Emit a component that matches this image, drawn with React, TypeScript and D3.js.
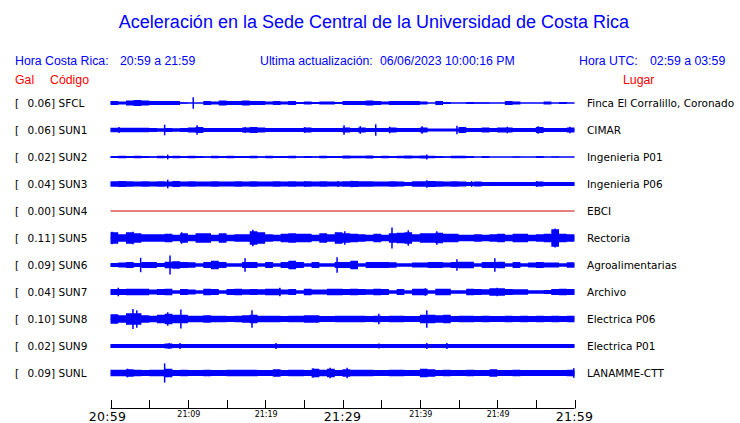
import React from "react";
import * as d3 from "d3";

// ---------- data ----------
const CODES = ["SFCL", "SUN1", "SUN2", "SUN3", "SUN4", "SUN5", "SUN6", "SUN7", "SUN8", "SUN9", "SUNL"];
const PEAKS = ["0.06", "0.06", "0.02", "0.04", "0.00", "0.11", "0.09", "0.04", "0.10", "0.02", "0.09"];
const PLACES = [
  "Finca El Corralillo, Coronado", "CIMAR", "Ingenieria P01", "Ingenieria P06", "EBCI", "Rectoria",
  "Agroalimentarias", "Archivo", "Electrica P06", "Electrica P01", "LANAMME-CTT",
];

// envelope half-amplitude (Gal), one value per minute 20:59 .. 21:58
const ENV_SFCL = [0.02,0.015,0.025,0.03,0.025,0.02,0.02,0.02,0.02,0.008,0.005,0.005,0.02,0.015,0.025,0.02,0.02,0.025,0.02,0.02,0.015,0.02,0.015,0.02,0.01,0.015,0.01,0.015,0.015,0.01,0.02,0.02,0.02,0.025,0.02,0.015,0.02,0.02,0.02,0.02,0.015,0.005,0.02,0.01,0.005,0.005,0.01,0.008,0.008,0.005,0.005,0.02,0.015,0.005,0.005,0.005,0.015,0.005,0.01,0.005];
const ENV_SUN1 = [0.023,0.023,0.023,0.023,0.023,0.02,0.018,0.02,0.018,0.02,0.025,0.03,0.02,0.02,0.02,0.02,0.02,0.025,0.03,0.025,0.02,0.02,0.02,0.02,0.02,0.025,0.02,0.02,0.02,0.02,0.025,0.02,0.025,0.02,0.02,0.02,0.025,0.02,0.02,0.02,0.025,0.015,0.015,0.015,0.015,0.03,0.02,0.02,0.025,0.02,0.025,0.025,0.02,0.02,0.02,0.03,0.02,0.02,0.02,0.025];
const ENV_SUN2 = [0.01,0.012,0.01,0.012,0.01,0.008,0.012,0.01,0.012,0.01,0.012,0.01,0.008,0.012,0.01,0.012,0.01,0.01,0.012,0.008,0.012,0.01,0.01,0.012,0.008,0.01,0.008,0.012,0.01,0.01,0.015,0.012,0.012,0.015,0.01,0.012,0.01,0.012,0.015,0.012,0.015,0.012,0.01,0.008,0.012,0.012,0.01,0.005,0.01,0.005,0.005,0.005,0.008,0.005,0.005,0.01,0.005,0.008,0.005,0.005];
const ENV_SUN3 = [0.028,0.03,0.028,0.025,0.028,0.025,0.028,0.025,0.03,0.025,0.028,0.025,0.025,0.028,0.025,0.025,0.028,0.025,0.028,0.025,0.025,0.028,0.025,0.028,0.025,0.028,0.025,0.028,0.025,0.025,0.028,0.03,0.028,0.028,0.025,0.025,0.028,0.025,0.022,0.028,0.028,0.03,0.028,0.025,0.028,0.025,0.022,0.025,0.022,0.022,0.022,0.022,0.022,0.022,0.022,0.025,0.022,0.022,0.022,0.022];
const ENV_SUN4: number[] = [];
const ENV_SUN5 = [0.06,0.04,0.06,0.05,0.04,0.04,0.04,0.045,0.035,0.05,0.035,0.05,0.05,0.035,0.05,0.035,0.04,0.04,0.07,0.06,0.04,0.035,0.045,0.05,0.045,0.045,0.035,0.05,0.04,0.06,0.05,0.045,0.04,0.035,0.045,0.035,0.05,0.055,0.06,0.04,0.05,0.05,0.055,0.045,0.045,0.035,0.035,0.04,0.035,0.04,0.045,0.035,0.045,0.045,0.035,0.04,0.045,0.09,0.045,0.04];
const ENV_SUN6 = [0.022,0.025,0.03,0.02,0.03,0.03,0.02,0.035,0.04,0.03,0.028,0.018,0.03,0.045,0.03,0.018,0.018,0.03,0.03,0.018,0.03,0.018,0.03,0.045,0.03,0.018,0.03,0.018,0.018,0.03,0.03,0.045,0.018,0.03,0.03,0.03,0.028,0.018,0.018,0.025,0.025,0.03,0.03,0.025,0.03,0.035,0.035,0.018,0.03,0.03,0.035,0.018,0.03,0.018,0.025,0.03,0.025,0.025,0.018,0.028];
const ENV_SUN7 = [0.03,0.03,0.035,0.035,0.035,0.025,0.03,0.035,0.017,0.03,0.025,0.017,0.035,0.03,0.017,0.03,0.035,0.028,0.03,0.028,0.035,0.035,0.025,0.03,0.017,0.035,0.025,0.025,0.035,0.035,0.03,0.035,0.03,0.028,0.035,0.03,0.017,0.03,0.017,0.035,0.035,0.017,0.035,0.035,0.017,0.017,0.035,0.03,0.028,0.04,0.04,0.03,0.028,0.028,0.017,0.017,0.02,0.032,0.035,0.03];
const ENV_SUN8 = [0.05,0.04,0.06,0.06,0.04,0.035,0.045,0.055,0.045,0.045,0.035,0.035,0.04,0.035,0.035,0.03,0.035,0.04,0.045,0.035,0.035,0.035,0.03,0.035,0.035,0.04,0.04,0.03,0.03,0.035,0.035,0.035,0.035,0.03,0.035,0.03,0.035,0.035,0.03,0.03,0.045,0.045,0.04,0.045,0.03,0.035,0.035,0.03,0.033,0.03,0.03,0.033,0.03,0.033,0.03,0.033,0.03,0.033,0.03,0.033];
const ENV_SUN9 = [0.02,0.02,0.02,0.02,0.02,0.02,0.02,0.025,0.02,0.02,0.02,0.02,0.02,0.02,0.02,0.02,0.02,0.02,0.02,0.02,0.02,0.02,0.02,0.02,0.02,0.02,0.02,0.02,0.02,0.02,0.02,0.02,0.02,0.02,0.02,0.02,0.02,0.02,0.02,0.02,0.02,0.02,0.02,0.02,0.02,0.02,0.02,0.02,0.02,0.02,0.02,0.02,0.02,0.02,0.02,0.02,0.02,0.02,0.02,0.02];
const ENV_SUNL = [0.035,0.035,0.04,0.035,0.03,0.035,0.035,0.045,0.03,0.035,0.03,0.03,0.035,0.03,0.03,0.035,0.035,0.035,0.035,0.03,0.03,0.04,0.03,0.035,0.035,0.03,0.045,0.035,0.045,0.03,0.04,0.035,0.035,0.035,0.03,0.03,0.035,0.035,0.03,0.03,0.045,0.04,0.03,0.035,0.03,0.03,0.035,0.03,0.03,0.04,0.03,0.03,0.035,0.03,0.03,0.03,0.03,0.03,0.03,0.035];

// isolated spikes: [minute, half-amplitude (Gal)]
const SPK_SFCL = [[10.7, 0.06]];
const SPK_SUN1 = [[1.1, 0.03],[7.0, 0.055],[11.2, 0.05],[17.4, 0.03],[25.1, 0.03],[30.2, 0.05],[32.3, 0.04],[34.3, 0.06],[36.1, 0.035],[40.3, 0.04],[44.8, 0.045],[51.3, 0.035],[55.3, 0.04],[59.4, 0.035]];
const SPK_SUN2 = [[7.4, 0.025],[40.9, 0.025]];
const SPK_SUN3 = [[7.4, 0.045],[25.1, 0.03],[29.4, 0.03],[31.2, 0.035],[40.9, 0.04],[46.7, 0.03],[55.1, 0.03]];
const SPK_SUN4: number[][] = [];
const SPK_SUN5 = [[0.2, 0.065],[2.9, 0.065],[9.2, 0.06],[18.4, 0.085],[30.3, 0.07],[36.4, 0.11],[38.5, 0.08],[42.2, 0.07],[57.5, 0.1]];
const SPK_SUN6 = [[3.9, 0.075],[7.7, 0.1],[17.4, 0.07],[29.3, 0.08],[44.8, 0.06],[49.7, 0.07]];
const SPK_SUN7 = [[1.0, 0.045],[21.9, 0.045],[40.7, 0.04],[50.0, 0.045]];
const SPK_SUN8 = [[2.9, 0.105],[3.4, 0.09],[7.4, 0.07],[9.1, 0.1],[18.3, 0.09],[34.7, 0.055],[40.9, 0.09]];
const SPK_SUN9 = [[7.6, 0.03],[9.0, 0.03],[21.4, 0.03],[34.7, 0.025],[40.9, 0.03],[43.5, 0.03]];
const SPK_SUNL = [[2.2, 0.045],[7.0, 0.1],[26.2, 0.05],[28.4, 0.055],[30.6, 0.055],[59.9, 0.05]];

const ENVS = [ENV_SFCL, ENV_SUN1, ENV_SUN2, ENV_SUN3, ENV_SUN4, ENV_SUN5, ENV_SUN6, ENV_SUN7, ENV_SUN8, ENV_SUN9, ENV_SUNL];
const SPIKES = [SPK_SFCL, SPK_SUN1, SPK_SUN2, SPK_SUN3, SPK_SUN4, SPK_SUN5, SPK_SUN6, SPK_SUN7, SPK_SUN8, SPK_SUN9, SPK_SUNL];

const START_TIME = "20:59";
const TICK_MINUTES = [0, 5, 10, 15, 20, 25, 30, 35, 40, 45, 50, 55, 60];
const MAJOR_LABEL_MINUTES = [0, 30, 60];
const MINOR_LABEL_MINUTES = [10, 20, 40, 50];

const TITLE = "Aceleración en la Sede Central de la Universidad de Costa Rica";

// ---------- chart ----------
const W = 740;
const H = 423;
const BLUE = "#0000ff";
const RED = "#ff0000";
const SANS = "'Liberation Sans', Arial, sans-serif";
const DEJA = "'DejaVu Sans', sans-serif";

export default function App() {
  const x = d3.scaleLinear().domain([0, 60]).range([110.5, 574.5]);
  const rowY = d3.scalePoint<string>().domain(CODES).range([103, 373]);
  const amp = d3.scaleLinear().domain([-0.125, 0.125]).range([12, -12]);

  const parse = d3.timeParse("%H:%M");
  const fmt = d3.timeFormat("%H:%M");
  const t0 = parse(START_TIME) as Date;
  const label = (m: number) => fmt(d3.timeMinute.offset(t0, m));

  const axisY = 408.5;

  return (
    <svg
      width={W}
      height={H}
      style={{ position: "absolute", left: 0, top: 0, background: "#fff" }}
    >
      <rect width={W} height={H} fill="#fff" />
      <text x={374} y={28} textAnchor="middle" fontFamily={SANS} fontSize={18} fill={BLUE}>
        {TITLE}
      </text>

      <g fontFamily={SANS} fontSize={12.3} fill={BLUE}>
        <text x={15} y={65}>Hora Costa Rica:</text>
        <text x={120} y={65}>20:59 a 21:59</text>
        <text x={260} y={65}>Ultima actualización:</text>
        <text x={380} y={65}>06/06/2023 10:00:16 PM</text>
        <text x={579} y={65}>Hora UTC:</text>
        <text x={650} y={65}>02:59 a 03:59</text>
      </g>
      <g fontFamily={SANS} fontSize={12.3} fill={RED}>
        <text x={15} y={84}>Gal</text>
        <text x={50} y={84}>Código</text>
        <text x={623} y={84}>Lugar</text>
      </g>

      {CODES.map((code, i) => {
        const cy = rowY(code) as number;
        const env = ENVS[i];
        const pts = env.map((v, k) => [k, v]).concat(env.length ? [[env.length, env[env.length - 1]]] : []);
        const area = d3
          .area<number[]>()
          .x((d) => x(d[0]))
          .y0((d) => cy + amp(-d[1]))
          .y1((d) => cy + amp(d[1]))
          .curve(d3.curveStepAfter);
        return (
          <g key={code}>
            <text x={15} y={cy + 4} fontFamily={DEJA} fontSize={10.5} fill="#000">[</text>
            <text x={55} y={cy + 4} textAnchor="end" fontFamily={DEJA} fontSize={10.5} fill="#000">
              {PEAKS[i] + "]"}
            </text>
            <text x={58.5} y={cy + 4} fontFamily={DEJA} fontSize={10.5} fill="#000">{code}</text>
            <text x={587} y={cy + 4} fontFamily={DEJA} fontSize={10.5} fill="#000">{PLACES[i]}</text>

            {env.length === 0 ? (
              <line x1={x(0)} x2={x(60)} y1={cy} y2={cy} stroke="#cc0000" strokeWidth={1} />
            ) : (
              <g>
                <line x1={x(0)} x2={x(60)} y1={cy} y2={cy} stroke={BLUE} strokeWidth={1} />
                <path d={area(pts) || ""} fill={BLUE} />
                {SPIKES[i].map((s, k) => (
                  <line
                    key={k}
                    x1={x(s[0])}
                    x2={x(s[0])}
                    y1={cy + amp(s[1])}
                    y2={cy + amp(-s[1])}
                    stroke={BLUE}
                    strokeWidth={1.5}
                  />
                ))}
              </g>
            )}
          </g>
        );
      })}

      {/* time axis */}
      <line x1={x(0)} x2={x(60)} y1={axisY} y2={axisY} stroke="#000" strokeWidth={1} />
      {TICK_MINUTES.map((m) => (
        <line key={m} x1={Math.round(x(m)) + 0.5} x2={Math.round(x(m)) + 0.5} y1={axisY} y2={400} stroke="#000" strokeWidth={1} />
      ))}
      {MAJOR_LABEL_MINUTES.map((m) => (
        <text
          key={m}
          x={x(m) + (m === 0 ? -3 : 0)}
          y={421}
          textAnchor="middle"
          fontFamily={DEJA}
          fontSize={12.5}
          letterSpacing={0.3}
          fill="#000"
        >
          {label(m)}
        </text>
      ))}
      {MINOR_LABEL_MINUTES.map((m) => (
        <text key={m} x={x(m) + 1} y={417} textAnchor="middle" fontFamily={DEJA} fontSize={8} fill="#000">
          {label(m)}
        </text>
      ))}
    </svg>
  );
}
